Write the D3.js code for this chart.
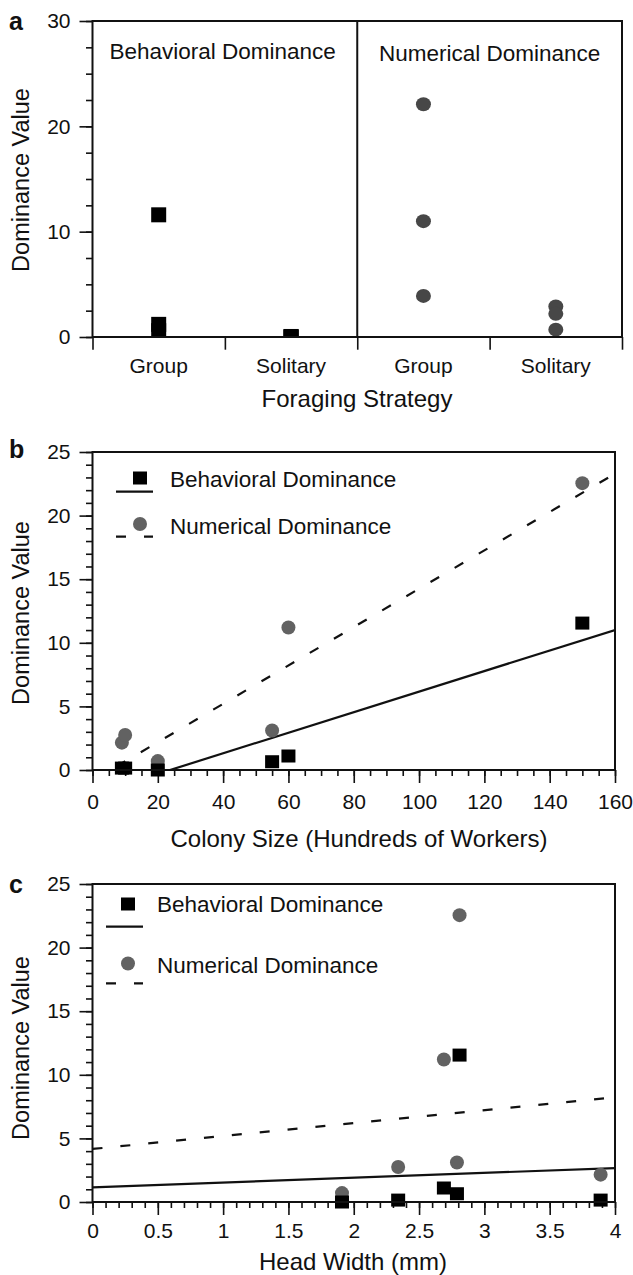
<!DOCTYPE html>
<html><head><meta charset="utf-8">
<script src="https://cdn.jsdelivr.net/npm/d3@7"></script>
<style>
body{margin:0;background:#fff;}
svg{display:block;font-family:"Liberation Sans",Arial,Helvetica,sans-serif;}
</style></head><body>
<svg id="chart" width="633" height="1275"></svg>
<script>
// ---------- Panel a data ----------
const categoriesA = ["Group", "Solitary", "Group", "Solitary"];
const panelTitlesA = ["Behavioral Dominance", "Numerical Dominance"];
const behavioralGroupA = [11.6, 1.2, 0.6];
const behavioralSolitaryA = [0.05, 0.0, 0.0];
const numericalGroupA = [22.1, 11.0, 3.9];
const numericalSolitaryA = [2.9, 2.2, 0.7];
const yTicksA = [0, 10, 20, 30];

// ---------- Panels b, c data (per species) ----------
const colonySize = [9, 10, 20, 55, 60, 150];
const headWidth = [3.89, 2.34, 1.91, 2.79, 2.69, 2.81];
const behavioral = [0.15, 0.15, 0.0, 0.65, 1.1, 11.55];
const numerical = [2.15, 2.75, 0.7, 3.1, 11.2, 22.55];
// fitted regression lines: [intercept, slope]
const fitColonyBehavioral = [-1.92, 0.0808];
const fitColonyNumerical = [-0.83, 0.1508];
const fitHeadBehavioral = [1.15, 0.38];
const fitHeadNumerical = [4.17, 1.015];
const xTicksB = [0, 20, 40, 60, 80, 100, 120, 140, 160];
const xTicksC = [0, 0.5, 1, 1.5, 2, 2.5, 3, 3.5, 4];
const yTicksBC = [0, 5, 10, 15, 20, 25];
const legendLabels = ["Behavioral Dominance", "Numerical Dominance"];
const yTitle = "Dominance Value";
const xTitles = ["Foraging Strategy", "Colony Size (Hundreds of Workers)", "Head Width (mm)"];
const panelLetters = ["a", "b", "c"];

const svg = d3.select("#chart");
const INK = "#111";
const GRAY_A = "#474747";
const GRAY = "#626262";
const TICK_FONT = 21;

function range(a, b, step) {
  const out = [];
  for (let v = a; v <= b + 1e-9; v += step) out.push(+v.toFixed(6));
  return out;
}

function styleAxis(g) {
  g.select(".domain").remove();
  g.selectAll(".tick line").attr("stroke", INK).attr("stroke-width", 1.6);
  g.selectAll(".tick text").attr("font-size", TICK_FONT).attr("fill", INK)
    .attr("font-family", '"Liberation Sans",Arial,Helvetica,sans-serif');
}

function drawYAxis(y, x0, major, minor) {
  svg.append("g").attr("transform", `translate(${x0},0)`)
    .call(d3.axisLeft(y).tickValues(minor).tickSize(6.5).tickFormat(""))
    .call(styleAxis);
  svg.append("g").attr("transform", `translate(${x0},0)`)
    .call(d3.axisLeft(y).tickValues(major).tickSize(13).tickPadding(9))
    .call(styleAxis);
}

function frame(x0, x1, y0, y1) {
  svg.append("rect").attr("x", x0).attr("y", y0).attr("width", x1 - x0).attr("height", y1 - y0)
    .attr("fill", "none").attr("stroke", INK).attr("stroke-width", 2);
}

function yTitleAt(x, y) {
  svg.append("text").attr("transform", `translate(${x},${y}) rotate(-90)`)
    .attr("text-anchor", "middle").attr("font-size", 23.5).attr("fill", INK).text(yTitle);
}
function textAt(x, y, s, size, anchor, weight) {
  svg.append("text").attr("x", x).attr("y", y).attr("font-size", size)
    .attr("text-anchor", anchor || "start").attr("font-weight", weight || "normal")
    .attr("fill", INK).text(s);
}

// ================= Panel a =================
{
  const L = 92.5, R = 622, T = 21, B = 337;
  const y = d3.scaleLinear().domain([0, 30]).range([B, T]);
  const xb = d3.scaleBand().domain(d3.range(categoriesA.length)).range([L, R]);
  const xs = d3.scaleLinear().domain([0, categoriesA.length]).range([L, R]);

  svg.append("clipPath").attr("id", "clipA").append("rect")
    .attr("x", L).attr("y", T).attr("width", R - L).attr("height", B - T);

  drawYAxis(y, L, yTicksA, range(0, 30, 2.5));
  // boundary ticks
  svg.append("g").attr("transform", `translate(0,${B})`)
    .call(d3.axisBottom(xs).tickValues(d3.range(categoriesA.length + 1)).tickSize(12.7).tickFormat(""))
    .call(styleAxis);
  // category labels
  svg.append("g").attr("transform", `translate(0,${B})`)
    .call(d3.axisBottom(xb).tickSize(0).tickPadding(21).tickFormat(i => categoriesA[i]))
    .call(styleAxis);

  // divider
  svg.append("line").attr("x1", xs(2)).attr("x2", xs(2)).attr("y1", T).attr("y2", B)
    .attr("stroke", INK).attr("stroke-width", 2);

  const pts = svg.append("g").attr("clip-path", "url(#clipA)");
  const sq = 15;
  const groups = [
    {vals: behavioralGroupA, cat: 0, shape: "square"},
    {vals: behavioralSolitaryA, cat: 1, shape: "square"},
    {vals: numericalGroupA, cat: 2, shape: "circle"},
    {vals: numericalSolitaryA, cat: 3, shape: "circle"}
  ];
  groups.forEach(gr => {
    const cx = xb(gr.cat) + xb.bandwidth() / 2;
    if (gr.shape === "square") {
      pts.selectAll(null).data(gr.vals).join("rect")
        .attr("x", cx - sq / 2).attr("y", d => y(d) - sq / 2)
        .attr("width", sq).attr("height", sq).attr("fill", "#000");
    } else {
      pts.selectAll(null).data(gr.vals).join("ellipse")
        .attr("cx", cx).attr("cy", d => y(d)).attr("rx", 7.5).attr("ry", 7)
        .attr("fill", GRAY_A);
    }
  });

  frame(L, R, T, B);
  textAt(109.5, 59, panelTitlesA[0], 22.5);
  textAt(379, 61, panelTitlesA[1], 22.5);
  textAt(357, 407, xTitles[0], 24, "middle");
  yTitleAt(29, 180);
  textAt(9, 30, panelLetters[0], 25, "start", "bold");
}

// ============ scatter panel builder (b, c) ============
function scatterPanel(opt) {
  const {L, R, T, B, xDomain, xMajor, xMinor, xVals, fits, id, xPad, legend, xTitle, xTitleX, xTitleY, yTitleY, letterY, fmt} = opt;
  const x = d3.scaleLinear().domain(xDomain).range([L, R]);
  const y = d3.scaleLinear().domain([0, 25]).range([B, T]);

  svg.append("clipPath").attr("id", id).append("rect")
    .attr("x", L).attr("y", T).attr("width", R - L).attr("height", B - T);

  drawYAxis(y, L, yTicksBC, range(0, 25, 1));
  svg.append("g").attr("transform", `translate(0,${B})`)
    .call(d3.axisBottom(x).tickValues(xMinor).tickSize(6).tickFormat(""))
    .call(styleAxis);
  svg.append("g").attr("transform", `translate(0,${B})`)
    .call(d3.axisBottom(x).tickValues(xMajor).tickSize(13).tickPadding(xPad).tickFormat(fmt))
    .call(styleAxis);

  // regression lines
  const line = d3.line().x(d => x(d[0])).y(d => y(d[1]));
  const lg = svg.append("g").attr("clip-path", `url(#${id})`);
  fits.forEach((f, i) => {
    const xs = xDomain;
    const seg = xs.map(v => [v, f[0] + f[1] * v]);
    lg.append("path").attr("d", line(seg)).attr("fill", "none").attr("stroke", INK)
      .attr("stroke-width", 2.2).attr("stroke-dasharray", i === 1 ? "10,18" : null);
  });

  // points
  const pg = svg.append("g");
  pg.selectAll(null).data(d3.range(xVals.length)).join("ellipse")
    .attr("cx", i => x(xVals[i])).attr("cy", i => y(numerical[i]))
    .attr("rx", 7).attr("ry", 7).attr("fill", GRAY);
  pg.selectAll(null).data(d3.range(xVals.length)).join("rect")
    .attr("x", i => x(xVals[i]) - 7).attr("y", i => y(behavioral[i]) - 6.5)
    .attr("width", 14).attr("height", 13).attr("fill", "#000");

  frame(L, R, T, B);

  // legend
  const lgd = legend;
  svg.append("rect").attr("x", lgd.mx - 7).attr("y", lgd.sqY - 6.5).attr("width", 14).attr("height", 13).attr("fill", "#000");
  svg.append("line").attr("x1", lgd.lx0).attr("x2", lgd.lx1).attr("y1", lgd.solidY).attr("y2", lgd.solidY)
    .attr("stroke", INK).attr("stroke-width", 2.2);
  svg.append("ellipse").attr("cx", lgd.mx).attr("cy", lgd.ciY).attr("rx", 7).attr("ry", 7).attr("fill", GRAY);
  svg.append("line").attr("x1", lgd.lx0).attr("x2", lgd.lx1).attr("y1", lgd.dashY).attr("y2", lgd.dashY)
    .attr("stroke", INK).attr("stroke-width", 2.2).attr("stroke-dasharray", "10,18");
  textAt(lgd.tx, lgd.t1Y, legendLabels[0], 22.5);
  textAt(lgd.tx, lgd.t2Y, legendLabels[1], 22.5);

  textAt(xTitleX, xTitleY, xTitle, 24, "middle");
  yTitleAt(29, yTitleY);
  textAt(9, letterY, opt.letter, 25, "start", "bold");
}

scatterPanel({
  id: "clipB", L: 92.5, R: 615, T: 452, B: 770,
  xDomain: [0, 160], xMajor: xTicksB, xMinor: range(0, 160, 5), xVals: colonySize,
  fits: [fitColonyBehavioral, fitColonyNumerical], xPad: 11, fmt: d3.format("d"),
  legend: {mx: 140, sqY: 478, ciY: 524, lx0: 116, lx1: 153, solidY: 491.7, dashY: 536.7, tx: 170, t1Y: 487, t2Y: 534},
  xTitle: xTitles[1], xTitleX: 359, xTitleY: 847, yTitleY: 613, letter: panelLetters[1], letterY: 458
});

scatterPanel({
  id: "clipC", L: 92.5, R: 615, T: 884, B: 1202,
  xDomain: [0, 4], xMajor: xTicksC, xMinor: range(0, 4, 0.1), xVals: headWidth,
  fits: [fitHeadBehavioral, fitHeadNumerical], xPad: 8, fmt: d => String(d),
  legend: {mx: 128, sqY: 904, ciY: 963.5, lx0: 106, lx1: 143, solidY: 926.7, dashY: 983.3, tx: 157, t1Y: 912, t2Y: 973},
  xTitle: xTitles[2], xTitleX: 353, xTitleY: 1270, yTitleY: 1048, letter: panelLetters[2], letterY: 893
});
</script>
</body></html>
